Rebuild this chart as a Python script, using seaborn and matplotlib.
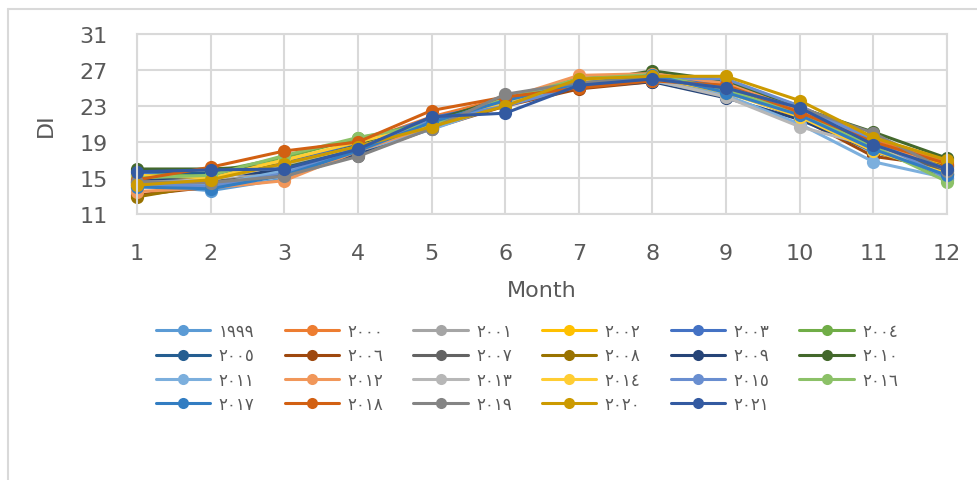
from matplotlib import pyplot as plt
from matplotlib.lines import Line2D
import numpy as np
import pandas
import seaborn as sns

# Data (DI per month, one list per year)
months = list(range(1, 13))
years = ["١٩٩٩", "٢٠٠٠", "٢٠٠١", "٢٠٠٢", "٢٠٠٣", "٢٠٠٤",
         "٢٠٠٥", "٢٠٠٦", "٢٠٠٧", "٢٠٠٨", "٢٠٠٩", "٢٠١٠",
         "٢٠١١", "٢٠١٢", "٢٠١٣", "٢٠١٤", "٢٠١٥", "٢٠١٦",
         "٢٠١٧", "٢٠١٨", "٢٠١٩", "٢٠٢٠", "٢٠٢١"]
di_1999 = [14.2, 13.6, 14.9, 17.9, 21.0, 23.8, 25.5, 26.0, 24.8, 22.1, 17.8, 16.5]
di_2000 = [14.4, 15.3, 16.9, 18.9, 21.8, 23.9, 25.6, 26.2, 25.6, 23.0, 19.3, 16.8]
di_2001 = [14.2, 14.5, 15.9, 18.0, 20.6, 23.6, 25.8, 26.0, 24.9, 21.6, 19.0, 15.9]
di_2002 = [14.9, 15.2, 17.0, 18.8, 20.9, 23.1, 25.9, 26.3, 25.1, 21.9, 18.6, 16.4]
di_2003 = [15.5, 15.1, 16.6, 18.8, 21.7, 23.3, 25.0, 26.1, 25.4, 22.2, 18.0, 15.8]
di_2004 = [15.2, 15.6, 17.3, 19.4, 21.2, 23.7, 26.1, 26.4, 24.4, 22.4, 18.8, 14.8]
di_2005 = [15.8, 15.5, 16.2, 18.2, 21.5, 23.6, 25.2, 26.6, 24.6, 22.6, 18.0, 15.4]
di_2006 = [13.1, 14.0, 15.6, 17.6, 20.5, 23.0, 24.9, 25.7, 24.7, 21.7, 17.4, 16.3]
di_2007 = [14.6, 14.6, 15.3, 17.5, 20.7, 24.1, 25.3, 25.8, 24.6, 21.9, 18.9, 15.6]
di_2008 = [12.9, 14.3, 15.5, 17.8, 20.6, 23.3, 25.4, 25.9, 25.2, 22.0, 18.3, 16.2]
di_2009 = [14.7, 15.2, 15.8, 17.7, 21.0, 23.5, 25.1, 25.7, 23.9, 21.5, 18.0, 15.5]
di_2010 = [16.0, 16.0, 16.4, 18.6, 21.3, 23.9, 25.6, 26.9, 25.8, 22.8, 20.1, 17.2]
di_2011 = [14.0, 14.2, 15.8, 18.0, 20.4, 23.2, 25.4, 25.8, 24.2, 21.0, 16.8, 15.0]
di_2012 = [13.5, 13.9, 14.7, 18.0, 20.8, 23.8, 26.4, 26.6, 25.5, 22.5, 19.0, 16.0]
di_2013 = [14.5, 14.8, 16.5, 18.5, 20.8, 23.4, 25.7, 25.9, 24.0, 20.7, 18.5, 15.2]
di_2014 = [15.3, 15.0, 17.0, 19.0, 21.0, 23.5, 25.8, 26.2, 24.5, 21.8, 18.0, 15.5]
di_2015 = [14.3, 14.1, 15.5, 18.3, 21.4, 23.0, 25.2, 26.2, 26.0, 23.0, 19.2, 15.0]
di_2016 = [15.0, 15.3, 17.5, 19.5, 21.0, 23.8, 26.0, 26.5, 24.8, 22.2, 18.5, 14.6]
di_2017 = [14.0, 13.8, 15.3, 18.0, 21.2, 23.6, 25.5, 26.4, 24.5, 22.0, 18.2, 15.3]
di_2018 = [14.8, 16.2, 18.0, 19.0, 22.5, 24.0, 25.0, 25.8, 25.3, 22.3, 19.0, 16.6]
di_2019 = [14.6, 14.5, 15.2, 17.4, 20.5, 24.3, 25.6, 26.0, 25.0, 22.8, 20.0, 15.8]
di_2020 = [14.2, 14.8, 16.6, 18.5, 20.7, 23.0, 26.0, 26.3, 26.3, 23.6, 19.5, 17.0]
di_2021 = [15.7, 15.9, 16.0, 18.2, 21.8, 22.2, 25.3, 26.0, 25.0, 22.8, 18.7, 16.0]
y_ticks = [11, 15, 19, 23, 27, 31]

series = [di_1999, di_2000, di_2001, di_2002, di_2003, di_2004, di_2005, di_2006,
          di_2007, di_2008, di_2009, di_2010, di_2011, di_2012, di_2013, di_2014,
          di_2015, di_2016, di_2017, di_2018, di_2019, di_2020, di_2021]

# Excel office palette
colors = ["#5B9BD5", "#ED7D31", "#A5A5A5", "#FFC000", "#4472C4", "#70AD47",
          "#255E91", "#9E480E", "#636363", "#997300", "#264478", "#43682B",
          "#7CAFDD", "#F1975A", "#B7B7B7", "#FFCD33", "#698ED0", "#8CC168",
          "#327DC2", "#D26012", "#848484", "#CC9A00", "#335AA1"]

rows = []
for year, vals in zip(years, series):
    for m, v in zip(months, vals):
        rows.append({"Year": year, "Month": m, "DI": v})
df = pandas.DataFrame(rows)

sns.set_style("white")
plt.rcParams['font.family'] = ['DejaVu Sans']
text_color = "#595959"
grid_color = "#d9d9d9"

fig = plt.figure(figsize=(9.77, 4.81), dpi=100)
ax = fig.add_axes([137 / 977, 1 - 215 / 481, 810 / 977, 180 / 481])

sns.lineplot(data=df, x="Month", y="DI", hue="Year", palette=colors, ax=ax,
             marker="o", markersize=9.5, markeredgewidth=0, linewidth=2.2,
             legend=True)
for line in ax.lines:
    line.set_clip_on(False)

ax.set_xlim(1, 12)
ax.set_ylim(11, 31)
ax.set_xticks(months)
ax.set_yticks(y_ticks)
ax.grid(True, color=grid_color, linewidth=1.5)
ax.set_axisbelow(True)
for sp in ax.spines.values():
    sp.set_color(grid_color)
    sp.set_linewidth(1.5)
ax.tick_params(axis="both", length=0, labelsize=16, labelcolor=text_color)
ax.tick_params(axis="x", pad=21)
ax.tick_params(axis="y", pad=21)
ax.set_xlabel("Month", fontsize=16, color=text_color, labelpad=12)
ax.set_ylabel("DI", fontsize=16, color=text_color, labelpad=17)

# legend in row-major order like Excel
handles, labels = ax.get_legend_handles_labels()
ax.get_legend().remove()
order = []
for c in range(6):
    for r in range(4):
        idx = r * 6 + c
        if idx < len(handles):
            order.append(idx)
leg = fig.legend([handles[i] for i in order], [labels[i] for i in order],
                 loc="upper left", bbox_to_anchor=(141 / 977, 1 - 308 / 481),
                 ncol=6, frameon=False, handlelength=3.25,
                 handletextpad=0.5, columnspacing=1.82, labelspacing=0.38,
                 prop={"family": ["DejaVu Sans"], "size": 12})
for t in leg.get_texts():
    t.set_color(text_color)
for h in leg.legend_handles:
    h.set_markersize(8)
    h.set_linewidth(2.2)

# chart frame lines (left and top)
fig.add_artist(Line2D([8 / 977, 8 / 977], [0, 1 - 10 / 481], color=grid_color, linewidth=1.5))
fig.add_artist(Line2D([8 / 977, 1], [1 - 10 / 481, 1 - 10 / 481], color=grid_color, linewidth=1.5))

fig.savefig("out.png", dpi=100)
